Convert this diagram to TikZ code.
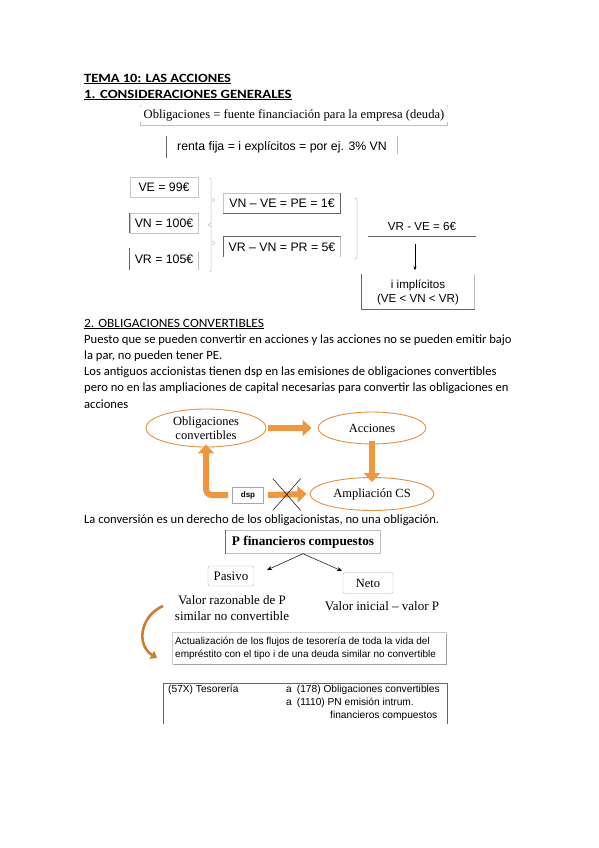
\documentclass[tikz,border=0pt]{standalone}
\usepackage{graphicx}
\usepackage{fontspec}
\setmainfont{Carlito}
\newfontfamily\arialf{Liberation Sans}
\newfontfamily\tnrf{Liberation Serif}
\usetikzlibrary{arrows.meta,shapes.geometric,calc}
\definecolor{ora}{HTML}{F2963C}
\definecolor{orab}{HTML}{E5913A}
\definecolor{orad}{HTML}{D27B2B}
\begin{document}
\begin{tikzpicture}[x=1pt,y=-1pt,
  txt/.style={anchor=west,inner sep=0pt,font=\fontsize{12.6}{14}\selectfont},
  head/.style={txt,font=\bfseries\fontsize{12.6}{14}\selectfont},
  ar/.style={inner sep=0pt,font=\arialf\fontsize{12.3}{14}\selectfont},
  tn/.style={inner sep=0pt,font=\tnrf\fontsize{12.6}{14}\selectfont},
  gbox/.style={draw=gray!45,line width=0.5pt,inner sep=0pt},
  ell/.style={ellipse,draw=orab,line width=0.9pt,inner sep=0pt,align=center,font=\tnrf\fontsize{12.5}{14}\selectfont},
  fat/.style={draw=ora,line width=6pt,-{Triangle[length=9pt,width=16pt]}},
  dk/.style={draw=gray!80!black,line width=0.7pt},
  lt/.style={draw=gray!50,line width=0.5pt},
  thin/.style={draw=black,line width=0.5pt}]
\useasboundingbox[fill=white] (0,0) rectangle (599,848);

% ---- headings
\node[head] (t1) at (84,79) {\scalebox{1.14}[1]{\underline{TEMA 10: LAS ACCIONES}}};
\node[head] (t2) at (84,95) {\scalebox{1.17}[1]{\underline{1. CONSIDERACIONES GENERALES}}};

% ---- top
\node[tn,minimum width=307pt,minimum height=20pt] (obl) at (294,115) {Obligaciones = fuente financiación para la empresa (deuda)};
\draw[lt] (obl.south west) -- (obl.south east);
\draw[lt] ($(obl.north west)+(1,0)$) -- ++(-1,2);
\draw[lt] ($(obl.north east)+(-1,0)$) -- ++(1,2);
\draw[lt] ($(obl.south west)+(0,-3)$) -- ++(0,3);
\draw[lt] ($(obl.south east)+(0,-3)$) -- ++(0,3);

\node[ar,minimum width=230pt,minimum height=22pt] (rf) at (282,147) {renta fija = i explícitos = por ej. 3\% VN};
\draw[dk] (rf.north west) -- (rf.south west);
\draw[lt] (rf.north east) -- ($(rf.south east)+(0,-4)$);

\node[ar,gbox,minimum width=68pt,minimum height=20pt] (ve) at (164,187) {VE = 99€};
\node[ar,gbox,minimum width=68pt,minimum height=20pt] (vn) at (164,223) {VN = 100€};
\draw[dk] (vn.north west) -- (vn.south west);
\node[ar,minimum width=68pt,minimum height=22pt] (vr) at (164,259) {VR = 105€};
\draw[dk] (vr.north west) -- (vr.south west);
\draw[lt] ($(vr.north east)+(0,4)$) -- (vr.south east);

% left brace
\coordinate (b1) at (211,178);
\draw[lt] (b1) ++(-2,0) .. controls (211,178) .. (211,181) -- (211,269) .. controls (211,272) .. ++(-2,3);
\draw[lt] (212,198) -- (215,200) -- (212,202);
\draw[lt] (211,223) -- (208,225) -- (211,227);
\draw[lt] (212,241) -- (215,243) -- (212,245);

\node[ar,gbox,minimum width=117pt,minimum height=20pt] (pe) at (282,203) {VN – VE = PE = 1€};
\draw[dk] (pe.north east) -- (pe.south east) -- (pe.south west);
\node[ar,minimum width=117pt,minimum height=20pt] (pr) at (282,247) {VR – VN = PR = 5€};
\draw[dk] (pr.south west) -- (pr.north west) -- (pr.north east);
\draw[lt] (pr.north east) -- (pr.south east);

% right bracket
\draw[lt] (354,198) .. controls (357,198) .. (357,201) -- (357,256) .. controls (357,259) .. (354,259);

\node[ar,font=\arialf\fontsize{11.6}{14}\selectfont] (vrve) at (422,227) {VR - VE = 6€};
\draw[dk] (368,236) -- (476,236);
\coordinate (ul) at (415,244);

\node[ar,font=\arialf\fontsize{11.6}{14}\selectfont,align=center,minimum width=113pt,minimum height=35pt] (impl) at (418,292) {i implícitos\\(VE < VN < VR)};
\draw[dk] (impl.north west) -- (impl.south west);
\draw[lt] (impl.north east) -- (impl.south east);
\draw[dk,line width=1pt] (impl.south west) -- (impl.south east);
\draw[thin,-{Stealth[length=4pt,width=3pt]}] (ul) -- ($(impl.north)+(-3,-4)$);

% ---- section 2
\node[txt] (t3) at (84,324) {\scalebox{1.06}[1]{\underline{2. OBLIGACIONES CONVERTIBLES}}};
\node[txt] (p1) at (84,340) {Puesto que se pueden convertir en acciones y las acciones no se pueden emitir bajo};
\node[txt] (p2) at (84,356) {la par, no pueden tener PE.};
\node[txt] (p3) at (84,372) {Los antiguos accionistas tienen dsp en las emisiones de obligaciones convertibles};
\node[txt] (p4) at (84,388) {pero no en las ampliaciones de capital necesarias para convertir las obligaciones en};
\node[txt] (p5) at (84,404) {acciones};

\node[ell,minimum width=120pt,minimum height=38pt] (oc) at (206,428) {Obligaciones\\convertibles};
\node[ell,minimum width=108pt,minimum height=32pt] (acc) at (372,428) {Acciones};
\node[ell,minimum width=124pt,minimum height=33pt] (amp) at (372,494) {Ampliación CS};
\node[draw=gray!70,line width=0.9pt,inner sep=0pt,minimum width=31pt,minimum height=16pt,font=\arialf\bfseries\fontsize{8}{9}\selectfont] (dsp) at (248,495) {dsp};

\draw[fat] ([xshift=2pt]oc.east) -- ([xshift=-6pt]acc.west);
\draw[fat] ([yshift=3pt]acc.south) -- ([yshift=-5pt]amp.north);
\draw[fat] ([xshift=4pt]dsp.east) -- ([xshift=-3pt]amp.west);
\path (dsp.east) -- (amp.west) coordinate[pos=0.5] (xm);
\draw[thin] ($(xm)+(-14,-16)$) -- ($(xm)+(14,16)$);
\draw[thin] ($(xm)+(14,-16)$) -- ($(xm)+(-14,16)$);
\draw[fat,rounded corners=6pt] ([xshift=-4pt]dsp.west) -| ([yshift=3pt]oc.south);

\node[txt] (p6) at (84,520) {La conversión es un derecho de los obligacionistas, no una obligación.};

% ---- P financieros
\node[tn,font=\tnrf\bfseries\fontsize{13.2}{15}\selectfont,minimum width=155pt,minimum height=23pt] (pfc) at (303,542) {P financieros compuestos};
\draw[lt] (pfc.south west) rectangle (pfc.north east);
\draw[dk] (pfc.north west) -- (pfc.south west);
\node[tn,font=\tnrf\fontsize{13}{15}\selectfont,draw=gray!60,rounded corners=2pt,minimum width=46pt,minimum height=20pt] (pas) at (231,576) {Pasivo};
\node[tn,font=\tnrf\fontsize{12.5}{15}\selectfont,draw=gray!60,rounded corners=2pt,minimum width=50pt,minimum height=21pt] (neto) at (368,583) {Neto};
\coordinate (pl) at (267,570);
\coordinate (pr2) at (342,571);
\draw[thin,-{Stealth[length=5pt,width=4pt]}] (pfc.south) -- (pl);
\draw[thin,-{Stealth[length=5pt,width=4pt]}] (pfc.south) -- (pr2);

\node[tn,align=center,font=\tnrf\fontsize{13}{16}\selectfont] (vraz) at (232,608) {Valor razonable de P\\similar no convertible};
\node[tn,font=\tnrf\fontsize{13}{15}\selectfont] (vini) at (382,606) {Valor inicial – valor P};

\coordinate (cs) at (163,606);
\coordinate (ce) at (157,658);
\draw[draw=orad,line width=2.6pt,-{Triangle[length=6pt,width=9pt]}] (cs) .. controls (140,616) and (136,645) .. (ce);

\node[inner sep=0pt,minimum width=274pt,minimum height=32pt] (act) at (309,648) {};
\draw[draw=gray!40,line width=0.6pt] (act.south west) rectangle (act.north east);
\draw[draw=gray!75,line width=1.3pt] ($(act.north east)+(0.6,2)$) -- ($(act.south east)+(0.6,0.6)$) -- ($(act.south west)+(2,0.6)$);
\node[anchor=west,inner sep=0pt,align=left,font=\arialf\fontsize{10}{13}\selectfont] (actt) at (175,648) {Actualización de los flujos de tesorería de toda la vida del\\empréstito con el tipo i de una deuda similar no convertible};

% ---- asiento
\coordinate (a1) at (163,724);
\coordinate (a2) at (163,683);
\coordinate (a3) at (447,683);
\coordinate (a4) at (447,724);
\draw[draw=gray!80!black,line width=0.6pt] (a1) -- (a2) -- (a3) -- (a4);
\node[anchor=west,inner sep=0pt,font=\arialf\fontsize{10.2}{12}\selectfont] (tes) at (168,690) {(57X) Tesorería};
\node[anchor=west,inner sep=0pt,font=\arialf\fontsize{10.2}{12}\selectfont] (e1) at (286,690) {a\hspace{5pt}(178) Obligaciones convertibles};
\node[anchor=west,inner sep=0pt,font=\arialf\fontsize{10.2}{12}\selectfont] (e2) at (286,703) {a\hspace{5pt}(1110) PN emisión intrum.};
\node[anchor=west,inner sep=0pt,font=\arialf\fontsize{10.2}{12}\selectfont] (e3) at (330,716) {financieros compuestos};
\end{tikzpicture}
\end{document}
